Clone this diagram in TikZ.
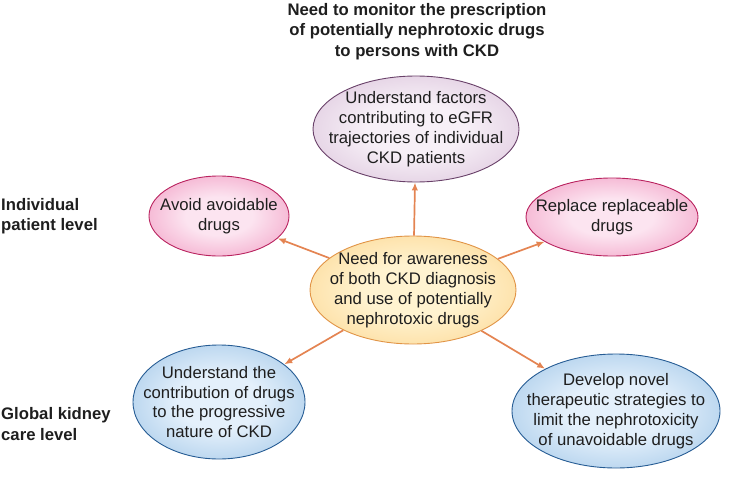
\documentclass[tikz,border=0pt]{standalone}
\usepackage{fontspec}
\setmainfont{Liberation Sans}
\usetikzlibrary{shapes.geometric,arrows.meta}
\definecolor{txt}{RGB}{30,30,30}
\definecolor{arrowc}{RGB}{228,132,82}
\definecolor{purIn}{RGB}{247,240,247}
\definecolor{purOut}{RGB}{200,165,200}
\definecolor{purLine}{RGB}{105,65,105}
\definecolor{pinkIn}{RGB}{252,228,240}
\definecolor{pinkOut}{RGB}{234,110,165}
\definecolor{pinkLine}{RGB}{185,35,95}
\definecolor{yelIn}{RGB}{255,243,208}
\definecolor{yelOut}{RGB}{250,196,105}
\definecolor{yelLine}{RGB}{225,148,70}
\definecolor{bluIn}{RGB}{228,240,251}
\definecolor{bluOut}{RGB}{115,170,218}
\definecolor{bluLine}{RGB}{38,92,148}
\pgfdeclareradialshading{purShade}{\pgfpointorigin}{color(0bp)=(purIn); color(12bp)=(purIn); color(50bp)=(purOut)}
\pgfdeclareradialshading{pinkShade}{\pgfpointorigin}{color(0bp)=(pinkIn); color(12bp)=(pinkIn); color(50bp)=(pinkOut)}
\pgfdeclareradialshading{yelShade}{\pgfpointorigin}{color(0bp)=(yelIn); color(12bp)=(yelIn); color(50bp)=(yelOut)}
\pgfdeclareradialshading{bluShade}{\pgfpointorigin}{color(0bp)=(bluIn); color(12bp)=(bluIn); color(50bp)=(bluOut)}
\tikzset{
  bubble/.style={ellipse, inner sep=-20pt, line width=0.9pt, text=txt,
    font=\fontsize{16.7}{19.8}\selectfont, align=center},
  purbub/.style={bubble, draw=purLine, shading=purShade},
  pinkbub/.style={bubble, draw=pinkLine, shading=pinkShade},
  yelbub/.style={bubble, draw=yelLine, shading=yelShade},
  blubub/.style={bubble, draw=bluLine, shading=bluShade},
  conn/.style={-{Latex[length=8pt,width=6.5pt]}, line width=1.7pt, draw=arrowc},
  heading/.style={font=\bfseries\fontsize{16.7}{20.5}\selectfont, text=txt},
}
\begin{document}
\begin{tikzpicture}[x=1pt,y=-1pt]
\useasboundingbox (0,0) rectangle (730,484);
\node[heading, align=center] (title) at (417,31.5)
  {Need to monitor the prescription\\of potentially nephrotoxic drugs\\to persons with CKD};
\node[heading, align=left, anchor=west, inner xsep=1pt] (lvlA) at (0,216)
  {Individual\\patient level};
\node[heading, align=left, anchor=west, inner xsep=1pt] (lvlB) at (0,424)
  {Global kidney\\care level};
\node[purbub, minimum width=206pt, minimum height=106pt] (P) at (416,129)
  {Understand factors\\contributing to eGFR\\trajectories of individual\\CKD patients};
\node[pinkbub, minimum width=140pt, minimum height=80pt] (PL) at (219,216)
  {Avoid avoidable\\drugs};
\node[pinkbub, minimum width=172pt, minimum height=78pt] (PR) at (612,217)
  {Replace replaceable\\drugs};
\node[yelbub, minimum width=206pt, minimum height=108pt] (Y) at (413,290)
  {Need for awareness\\of both CKD diagnosis\\and use of potentially\\nephrotoxic drugs};
\node[blubub, minimum width=172pt, minimum height=114pt] (BL) at (219,402)
  {Understand the\\contribution of drugs\\to the progressive\\nature of CKD};
\node[blubub, minimum width=208pt, minimum height=114pt] (BR) at (616,411)
  {Develop novel\\therapeutic strategies to\\limit the nephrotoxicity\\of unavoidable drugs};
\draw[conn] (Y) -- (P);
\draw[conn] (Y) -- (PL);
\draw[conn] (Y) -- (PR);
\draw[conn] (Y) -- (BL);
\draw[conn] (Y) -- (BR);
\end{tikzpicture}
\end{document}
